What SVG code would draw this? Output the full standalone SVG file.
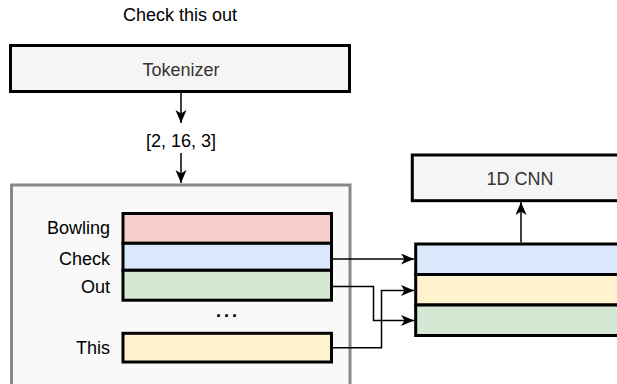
<svg xmlns="http://www.w3.org/2000/svg" width="617" height="384" viewBox="0 0 617 384">
<style>
  text { font-family: "Liberation Sans", Arial, sans-serif; font-size: 18px; fill: #000; }
  .gray { fill: #333333; }
  .box { stroke: #000; stroke-width: 3; }
  .conn { fill: none; stroke: #000; stroke-width: 1.5; }
</style>
<defs>
  <marker id="arr" markerUnits="userSpaceOnUse" markerWidth="14" markerHeight="12" refX="13" refY="5.5" orient="auto" viewBox="0 0 14 12">
    <path d="M0,0 L13,5.5 L0,11 L3.5,5.5 z" fill="#000"/>
  </marker>
</defs>

<g id="title">
  <text x="180" y="20.5" text-anchor="middle">Check this out</text>
</g>

<g id="tokenizer">
  <rect class="box" x="10.5" y="45.5" width="339" height="46" fill="#f5f5f5"/>
  <text class="gray" x="181" y="75.5" text-anchor="middle">Tokenizer</text>
</g>

<g id="ids">
  <text x="181" y="146.5" text-anchor="middle">[2, 16, 3]</text>
</g>

<g id="embedding">
  <rect x="11.5" y="185" width="338.5" height="215" fill="#f9f9f9" stroke="#888888" stroke-width="3"/>
  <rect class="box" x="123" y="213.5" width="208.5" height="29.8" fill="#f8cecc"/>
  <rect class="box" x="123" y="243.3" width="208.5" height="27" fill="#dae8fc"/>
  <rect class="box" x="123" y="270.3" width="208.5" height="29.9" fill="#d5e8d4"/>
  <rect class="box" x="123" y="333.3" width="208.5" height="28.7" fill="#fff2cc"/>
  <text x="110" y="234" text-anchor="end">Bowling</text>
  <text x="110" y="265" text-anchor="end">Check</text>
  <text x="110" y="293" text-anchor="end">Out</text>
  <text x="110" y="354" text-anchor="end">This</text>
  <text x="228" y="316.5" text-anchor="middle" font-weight="bold" letter-spacing="3">...</text>
</g>

<g id="sequence">
  <rect class="box" x="415.7" y="244" width="215" height="30.5" fill="#dae8fc"/>
  <rect class="box" x="415.7" y="274.5" width="215" height="30.5" fill="#fff2cc"/>
  <rect class="box" x="415.7" y="305" width="215" height="30.5" fill="#d5e8d4"/>
</g>

<g id="cnn">
  <rect class="box" x="412.3" y="155" width="215.4" height="45.7" fill="#f5f5f5"/>
  <text class="gray" x="520" y="184.5" text-anchor="middle">1D CNN</text>
</g>

<g id="connectors">
  <path class="conn" d="M181,93 L181,123" stroke-width="2" marker-end="url(#arr)"/>
  <path class="conn" d="M181,153 L181,183" stroke-width="2" marker-end="url(#arr)"/>
  <path class="conn" d="M521,242.5 L521,202" stroke-width="2" marker-end="url(#arr)"/>
  <path class="conn" d="M333,259 L414,259" marker-end="url(#arr)"/>
  <path class="conn" d="M333,286.5 L373.5,286.5 L373.5,320.5 L414,320.5" marker-end="url(#arr)"/>
  <path class="conn" d="M333,347.7 L381.5,347.7 L381.5,290.5 L414,290.5" marker-end="url(#arr)"/>
</g>
</svg>
